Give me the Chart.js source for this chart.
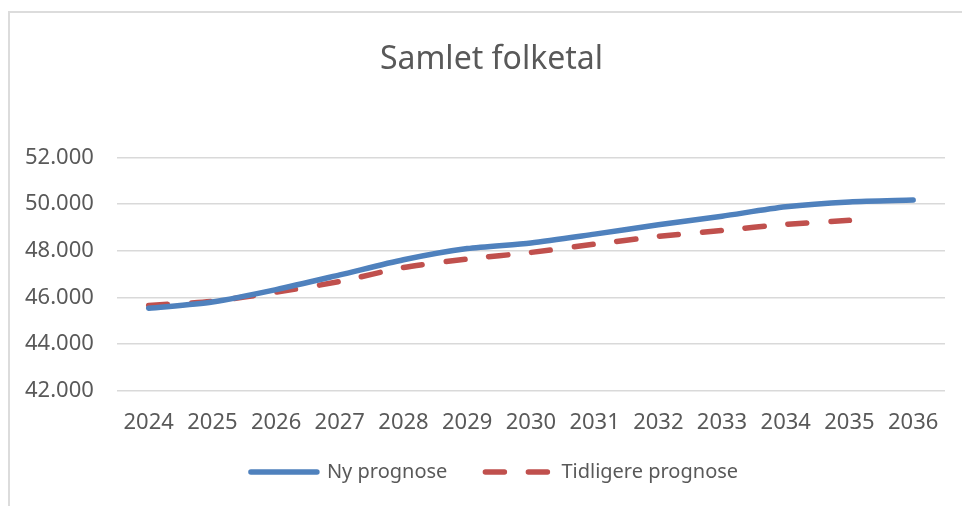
<!DOCTYPE html>
<html>
<head>
<meta charset="utf-8">
<script src="https://cdn.jsdelivr.net/npm/chart.js@4/dist/chart.umd.min.js"></script>
<style>
  html, body { margin: 0; padding: 0; background: #ffffff; }
  #wrap { position: relative; width: 962px; height: 506px; overflow: hidden; }
  #frame { position: absolute; left: 8px; top: 11px; width: 1100px; height: 700px;
           border-left: 2px solid #dcdcdc; border-top: 2px solid #dcdcdc; }
  canvas { position: absolute; left: 0; top: 0; }
</style>
</head>
<body>
<div id="wrap">
  <div id="frame"></div>
  <canvas id="c" width="962" height="506"></canvas>
</div>
<script>
const chartTitle = "Samlet folketal";
const years = ["2024","2025","2026","2027","2028","2029","2030","2031","2032","2033","2034","2035","2036"];
const nyPrognose = [45530, 45800, 46330, 46960, 47610, 48090, 48330, 48710, 49110, 49480, 49880, 50090, 50170];
const tidligerePrognose = [45650, 45830, 46220, 46680, 47280, 47640, 47925, 48280, 48610, 48870, 49130, 49300, null];
const seriesNames = ["Ny prognose", "Tidligere prognose"];
const yMin = 42000, yMax = 52000, yStep = 2000;

const FONT = "'Noto Sans', 'Open Sans', sans-serif";
const TXT = "#595959";

// nudges the library's own title/legend boxes once, after layout
const boxNudge = {
  id: 'boxNudge',
  afterLayout: function(chart) {
    const lg = chart.legend, tb = chart.titleBlock;
    if (lg) { lg.left += 21; lg.right += 21; lg.top -= 31; lg.bottom -= 31; }
    if (tb) { tb.left += 18; tb.right += 18; }
  }
};

new Chart(document.getElementById('c'), {
  type: 'line',
  data: {
    labels: years,
    datasets: [
      {
        label: seriesNames[0],
        data: nyPrognose,
        borderColor: '#4F81BD',
        backgroundColor: '#4F81BD',
        borderWidth: 5.5,
        borderCapStyle: 'round',
        borderJoinStyle: 'round',
        pointRadius: 0,
        pointStyle: 'line',
        tension: 0.25,
        fill: false
      },
      {
        label: seriesNames[1],
        data: tidligerePrognose,
        borderColor: '#C0504D',
        backgroundColor: '#C0504D',
        borderWidth: 5.5,
        borderDash: [19, 24],
        borderCapStyle: 'round',
        borderJoinStyle: 'round',
        pointRadius: 0,
        pointStyle: 'line',
        tension: 0.25,
        fill: false,
        spanGaps: false
      }
    ]
  },
  plugins: [boxNudge],
  options: {
    responsive: false,
    animation: false,
    devicePixelRatio: 1,
    layout: { padding: { left: 2, right: 17, top: 0, bottom: -17 } },
    plugins: {
      title: {
        display: true,
        text: chartTitle,
        color: TXT,
        font: { family: FONT, size: 32, weight: 'normal' },
        padding: { top: 41, bottom: 78 }
      },
      legend: {
        display: true,
        position: 'bottom',
        labels: {
          color: TXT,
          font: { family: FONT, size: 20 },
          usePointStyle: true,
          pointStyleWidth: 66,
          padding: 38,
          generateLabels: function(chart) {
            const items = Chart.defaults.plugins.legend.labels.generateLabels(chart);
            items.forEach(function(it) {
              const ds = chart.data.datasets[it.datasetIndex];
              it.lineDash = ds.borderDash || [];
              it.lineWidth = ds.borderWidth;
              it.strokeStyle = ds.borderColor;
              it.fillStyle = ds.borderColor;
              it.lineCap = 'round';
              it.pointStyle = 'line';
            });
            return items;
          }
        }
      },
      tooltip: { enabled: false }
    },
    scales: {
      x: {
        offset: true,
        grid: { display: false, drawTicks: false },
        border: { display: false },
        ticks: { color: TXT, font: { family: FONT, size: 22 }, padding: 19, maxRotation: 0, autoSkip: false }
      },
      y: {
        min: yMin,
        max: yMax,
        grid: { color: '#d9d9d9', lineWidth: 1.5, drawTicks: false },
        border: { display: false },
        ticks: {
          stepSize: yStep,
          color: TXT,
          font: { family: FONT, size: 22 },
          padding: 23,
          callback: function(v) { return v.toLocaleString('de-DE'); }
        }
      }
    }
  }
});
</script>
</body>
</html>
